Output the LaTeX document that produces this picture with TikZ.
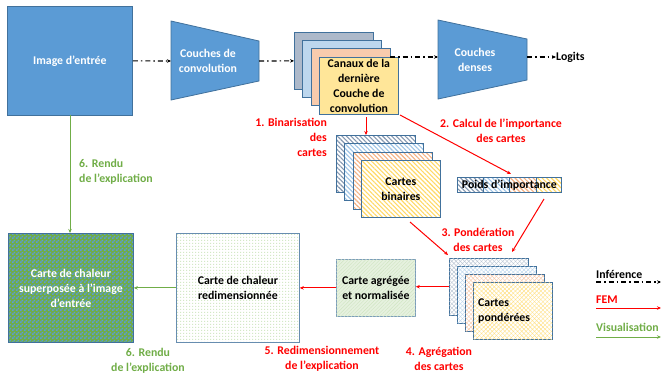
\documentclass[tikz,border=0pt]{standalone}
\usepackage{fontspec}
\setmainfont{Carlito}
\usetikzlibrary{arrows.meta,patterns,patterns.meta}
\pgfdeclarepatternformonly{finecheck}{\pgfqpoint{0pt}{0pt}}{\pgfqpoint{4pt}{4pt}}{\pgfqpoint{4pt}{4pt}}{%
  \pgfpathrectangle{\pgfqpoint{0pt}{0pt}}{\pgfqpoint{2pt}{2pt}}%
  \pgfpathrectangle{\pgfqpoint{2pt}{2pt}}{\pgfqpoint{2pt}{2pt}}%
  \pgfusepath{fill}}
\pgfdeclarepatternformonly{finedots}{\pgfqpoint{0pt}{0pt}}{\pgfqpoint{3pt}{3pt}}{\pgfqpoint{3pt}{3pt}}{%
  \pgfpathrectangle{\pgfqpoint{0pt}{0pt}}{\pgfqpoint{1.5pt}{1.5pt}}%
  \pgfusepath{fill}}
\definecolor{blueF}{HTML}{5B9BD5}
\definecolor{blueD}{HTML}{41719C}
\definecolor{cA}{HTML}{ADB9CA}
\definecolor{cB}{HTML}{BDD7EE}
\definecolor{cC}{HTML}{F8CBAD}
\definecolor{cD}{HTML}{FFE699}
\definecolor{hA}{HTML}{8497B0}
\definecolor{hB}{HTML}{9DC3E6}
\definecolor{hC}{HTML}{F4B183}
\definecolor{hD}{HTML}{FFD966}
\definecolor{redL}{HTML}{FF0000}
\definecolor{greenL}{HTML}{70AD47}
\definecolor{aggF}{HTML}{E6F1DF}
\definecolor{aggP}{HTML}{CFE5C1}
\definecolor{heatP}{HTML}{D3E8C6}
\tikzset{
  lbl/.style={font=\bfseries\fontsize{11.8}{15}\selectfont, inner sep=0pt},
  box/.style={draw=blueD, line width=0.8pt, anchor=north west, inner sep=2pt, align=center,
    font=\bfseries\fontsize{11.8}{15}\selectfont},
  card/.style={box, minimum width=79pt, minimum height=57pt},
  bincard/.style={card, preaction={fill=white}, pattern={Lines[angle=-45,distance=3.2pt,line width=1.1pt]}},
  wcard/.style={card, preaction={fill=white}, pattern={Lines[angle=45,distance=3pt,line width=0.4pt]},
    postaction={pattern={Lines[angle=-45,distance=3pt,line width=0.4pt]}, pattern color=#1}},
  infer/.style={line width=1.1pt, dash pattern=on 5pt off 3pt on 1.5pt off 3pt, -{Stealth[length=4pt,width=3.5pt]}},
  fem/.style={draw=redL, line width=1pt, -{Stealth[length=4pt,width=3.5pt]}},
  visu/.style={draw=greenL, line width=1pt, -{Stealth[length=4pt,width=3.5pt]}},
}
\begin{document}
\begin{tikzpicture}[x=1pt,y=-1pt]
\useasboundingbox (0,0) rectangle (661,378);

% input image
\node[box, fill=blueF, text=white, minimum width=125pt, minimum height=109pt] (img) at (7,6) {Image d’entrée};

% conv trapezoid
\draw[fill=blueF, draw=blueD, line width=0.8pt] (171,21) -- (259,41) -- (259,81) -- (171,100) -- cycle;
\node[lbl, text=white, align=center] (conv) at (208,61) {Couches de\\convolution};
\coordinate (convL) at (171,61);
\coordinate (convR) at (259,61);

% dense trapezoid
\draw[fill=blueF, draw=blueD, line width=0.8pt] (438,20) -- (527,39) -- (527,80) -- (438,99) -- cycle;
\node[lbl, text=white, align=center] (dense) at (475,60) {Couches\\denses};
\coordinate (denseL) at (438,57);
\coordinate (denseR) at (527,57);

% channel stack
\node[card, fill=cA] (s1) at (294,32) {};
\node[card, fill=cB] (s2) at (302,40) {};
\node[card, fill=cC] (s3) at (311,48) {};
\node[card, fill=cD] (s4) at (319,57) {Canaux de la\\dernière\\Couche de\\convolution};

\node[lbl, anchor=west] (logits) at (556,57) {Logits};

% binary maps
\node[bincard, pattern color=hA] (b1) at (336,135) {};
\node[bincard, pattern color=hB] (b2) at (344,143) {};
\node[bincard, pattern color=hC] (b3) at (353,152) {};
\node[bincard, pattern color=hD] (b4) at (361,160) {Cartes\\binaires};

% importance weights bar
\path[draw=blueD, line width=0.8pt, preaction={fill=white}, pattern={Lines[angle=-45,distance=3.2pt,line width=1.1pt]}, pattern color=hA] (457,177) rectangle (483,192);
\path[draw=blueD, line width=0.8pt, preaction={fill=white}, pattern={Lines[angle=-45,distance=3.2pt,line width=1.1pt]}, pattern color=hB] (483,177) rectangle (509,192);
\path[draw=blueD, line width=0.8pt, preaction={fill=white}, pattern={Lines[angle=-45,distance=3.2pt,line width=1.1pt]}, pattern color=hC] (509,177) rectangle (536,192);
\path[draw=blueD, line width=0.8pt, preaction={fill=white}, pattern={Lines[angle=-45,distance=3.2pt,line width=1.1pt]}, pattern color=hD] (536,177) rectangle (561,192);
\node[box, draw=none, minimum width=104pt, minimum height=15pt, inner sep=0pt] (poids) at (457,177) {Poids d’importance};

% weighted maps
\node[wcard=hA!60, pattern color=hA!60] (w1) at (449,258) {};
\node[wcard=hB!70, pattern color=hB!70] (w2) at (457,266) {};
\node[wcard=hC!70, pattern color=hC!70] (w3) at (465,274) {};
\node[wcard=hD!80, pattern color=hD!80] (w4) at (473,282) {};
\node[lbl, anchor=west, align=left] (wtxt) at (478,311) {Cartes\\pondérées};

% aggregated map
\node[card, fill=aggF, postaction={pattern={Lines[angle=45,distance=2.5pt,line width=0.4pt]}, pattern color=aggP}, draw=blueD!70] (agg) at (336,259) {Carte agrégée\\et normalisée};

% resized heatmap
\node[box, minimum width=123pt, minimum height=109pt, preaction={fill=white}, pattern=finedots, pattern color=heatP, draw=blueD!80] (heat) at (176,233) {Carte de chaleur\\redimensionnée};

% overlay
\node[box, minimum width=125pt, minimum height=109pt, preaction={fill=greenL}, pattern=finecheck, pattern color=blueF, text=white] (ovl) at (8,233) {Carte de chaleur\\superposée à l’image\\d’entrée};

% inference arrows
\draw[infer] (img.east) -- (convL);
\draw[infer] (convR) -- (s1.west);
\coordinate (s3top) at (390,57);
\draw[infer] (s3top) -- (denseL);
\draw[infer] (denseR) -- (logits.west);

% FEM arrows
\coordinate (a1s) at (366,117);
\coordinate (a1e) at (366,135);
\draw[fem] (a1s) -- (a1e);
\coordinate (a2s) at (400,115);
\coordinate (a2e) at (511,174);
\draw[fem] (a2s) -- (a2e);
\coordinate (a3s) at (410,222);
\coordinate (a3e) at (448,255);
\draw[fem] (a3s) -- (a3e);
\coordinate (a4s) at (544,199);
\coordinate (a4e) at (512,252);
\draw[fem] (a4s) -- (a4e);
\draw[fem] (w1.west) -- (agg.east |- w1.west);
\draw[fem] (agg.west) -- (heat.east |- agg.west);

% visualisation arrows
\draw[visu] (heat.west |- ovl.east) -- (ovl.east);
\coordinate (imgb) at (70,115);
\draw[visu] (imgb) -- (imgb |- ovl.north);

% labels
\node[lbl, text=redL, align=right, anchor=east] (l1) at (327,137) {1. Binarisation\\des\\cartes};
\node[lbl, text=redL, align=center] (l2) at (501,131) {2. Calcul de l’importance\\des cartes};
\node[lbl, text=redL, align=center] (l3) at (478,240) {3. Pondération\\des cartes};
\node[lbl, text=redL, align=center] (l4) at (439,359) {4. Agrégation\\des cartes};
\node[lbl, text=redL, align=center] (l5) at (322,359) {5. Redimensionnement\\de l’explication};
\node[lbl, text=greenL, align=center] (l6b) at (148,361) {6. Rendu\\de l’explication};
\node[lbl, text=greenL, align=left, anchor=west] (l6t) at (79,172) {6. Rendu\\de l’explication};

% legend
\node[lbl, anchor=west] (lgI) at (596,274) {Inférence};
\node[lbl, anchor=west, text=redL] (lgF) at (596,300) {FEM};
\node[lbl, anchor=west, text=greenL] (lgV) at (596,327) {Visualisation};
\coordinate (lgIs) at (596,282);
\coordinate (lgIe) at (661,282);
\coordinate (lgFs) at (596,308);
\coordinate (lgFe) at (661,308);
\coordinate (lgVs) at (596,337);
\coordinate (lgVe) at (661,337);
\draw[infer] (lgIs) -- (lgIe);
\draw[fem] (lgFs) -- (lgFe);
\draw[visu] (lgVs) -- (lgVe);
\end{tikzpicture}
\end{document}
